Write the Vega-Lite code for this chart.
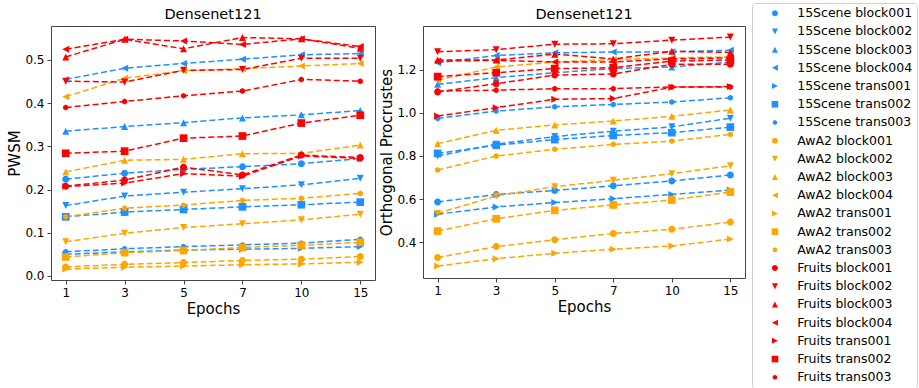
{
  "$schema": "https://vega.github.io/schema/vega-lite/v6.json",
  "padding": {"left": 7, "top": 2, "right": 0, "bottom": 0},
  "background": "white",
  "config": {
    "font": "DejaVu Sans",
    "view": {"stroke": "#444", "strokeWidth": 1},
    "axis": {"domain": false, "grid": false, "ticks": true, "tickSize": 4, "tickColor": "#444", "labelFont": "DejaVu Sans", "labelFontSize": 12, "labelColor": "#000", "titleFont": "DejaVu Sans", "titleFontSize": 15, "titleFontWeight": "normal", "titleColor": "#000", "labelPadding": 3},
    "axisY": {"titlePadding": 2},
    "axisX": {"titlePadding": 3},
    "title": {"font": "DejaVu Sans", "fontSize": 14.5, "fontWeight": "normal", "color": "#000", "offset": 4, "anchor": "middle", "baseline": "alphabetic"},
    "range": {
      "category": ["#1E90FF","#1E90FF","#1E90FF","#1E90FF","#1E90FF","#1E90FF","#1E90FF","#FFA500","#FFA500","#FFA500","#FFA500","#FFA500","#FFA500","#FFA500","#FF0000","#FF0000","#FF0000","#FF0000","#FF0000","#FF0000","#FF0000"],
      "symbol": [
        "M1,0A1,1,0,1,1,-1,0A1,1,0,1,1,1,0Z", "M0,1L-1,-1L1,-1Z", "M0,-1L-1,1L1,1Z", "M-1,0L1,-1L1,1Z", "M1,0L-1,-1L-1,1Z", "M-1.1,-1.1H1.1V1.1H-1.1Z", "M0,-0.85L0.736,-0.425L0.736,0.425L0,0.85L-0.736,0.425L-0.736,-0.425Z",
        "M1,0A1,1,0,1,1,-1,0A1,1,0,1,1,1,0Z", "M0,1L-1,-1L1,-1Z", "M0,-1L-1,1L1,1Z", "M-1,0L1,-1L1,1Z", "M1,0L-1,-1L-1,1Z", "M-1.1,-1.1H1.1V1.1H-1.1Z", "M0,-0.85L0.736,-0.425L0.736,0.425L0,0.85L-0.736,0.425L-0.736,-0.425Z",
        "M1,0A1,1,0,1,1,-1,0A1,1,0,1,1,1,0Z", "M0,1L-1,-1L1,-1Z", "M0,-1L-1,1L1,1Z", "M-1,0L1,-1L1,1Z", "M1,0L-1,-1L-1,1Z", "M-1.1,-1.1H1.1V1.1H-1.1Z", "M0,-0.85L0.736,-0.425L0.736,0.425L0,0.85L-0.736,0.425L-0.736,-0.425Z"
      ]
    },
    "legend": {"orient": "none", "legendX": 701, "legendY": -23, "padding": 4, "strokeColor": "#d0d0d0", "cornerRadius": 3, "fillColor": "white", "labelFont": "DejaVu Sans", "labelFontSize": 12.5, "labelColor": "#000", "rowPadding": 5.2, "symbolOffset": 12.7, "labelOffset": 16, "symbolSize": 36, "symbolStrokeWidth": 1.3, "title": null}
  },
  "data": {"values": [
    {"s":"15Scene block001","e":1,"p":0.224,"o":0.587},{"s":"15Scene block001","e":3,"p":0.238,"o":0.622},{"s":"15Scene block001","e":5,"p":0.247,"o":0.640},{"s":"15Scene block001","e":7,"p":0.253,"o":0.662},{"s":"15Scene block001","e":10,"p":0.260,"o":0.684},{"s":"15Scene block001","e":15,"p":0.272,"o":0.712},
    {"s":"15Scene block002","e":1,"p":0.163,"o":0.800},{"s":"15Scene block002","e":3,"p":0.185,"o":0.855},{"s":"15Scene block002","e":5,"p":0.194,"o":0.890},{"s":"15Scene block002","e":7,"p":0.202,"o":0.915},{"s":"15Scene block002","e":10,"p":0.211,"o":0.935},{"s":"15Scene block002","e":15,"p":0.226,"o":0.975},
    {"s":"15Scene block003","e":1,"p":0.335,"o":1.132},{"s":"15Scene block003","e":3,"p":0.346,"o":1.163},{"s":"15Scene block003","e":5,"p":0.355,"o":1.186},{"s":"15Scene block003","e":7,"p":0.366,"o":1.205},{"s":"15Scene block003","e":10,"p":0.373,"o":1.213},{"s":"15Scene block003","e":15,"p":0.383,"o":1.235},
    {"s":"15Scene block004","e":1,"p":0.455,"o":1.232},{"s":"15Scene block004","e":3,"p":0.481,"o":1.266},{"s":"15Scene block004","e":5,"p":0.492,"o":1.278},{"s":"15Scene block004","e":7,"p":0.502,"o":1.282},{"s":"15Scene block004","e":10,"p":0.512,"o":1.283},{"s":"15Scene block004","e":15,"p":0.515,"o":1.290},
    {"s":"15Scene trans001","e":1,"p":0.050,"o":0.530},{"s":"15Scene trans001","e":3,"p":0.056,"o":0.564},{"s":"15Scene trans001","e":5,"p":0.060,"o":0.584},{"s":"15Scene trans001","e":7,"p":0.062,"o":0.602},{"s":"15Scene trans001","e":10,"p":0.064,"o":0.622},{"s":"15Scene trans001","e":15,"p":0.068,"o":0.642},
    {"s":"15Scene trans002","e":1,"p":0.137,"o":0.812},{"s":"15Scene trans002","e":3,"p":0.148,"o":0.850},{"s":"15Scene trans002","e":5,"p":0.154,"o":0.876},{"s":"15Scene trans002","e":7,"p":0.160,"o":0.895},{"s":"15Scene trans002","e":10,"p":0.165,"o":0.908},{"s":"15Scene trans002","e":15,"p":0.171,"o":0.934},
    {"s":"15Scene trans003","e":1,"p":0.056,"o":0.974},{"s":"15Scene trans003","e":3,"p":0.063,"o":1.008},{"s":"15Scene trans003","e":5,"p":0.068,"o":1.028},{"s":"15Scene trans003","e":7,"p":0.072,"o":1.039},{"s":"15Scene trans003","e":10,"p":0.076,"o":1.050},{"s":"15Scene trans003","e":15,"p":0.085,"o":1.070},
    {"s":"AwA2 block001","e":1,"p":0.021,"o":0.329},{"s":"AwA2 block001","e":3,"p":0.027,"o":0.380},{"s":"AwA2 block001","e":5,"p":0.031,"o":0.412},{"s":"AwA2 block001","e":7,"p":0.036,"o":0.441},{"s":"AwA2 block001","e":10,"p":0.039,"o":0.460},{"s":"AwA2 block001","e":15,"p":0.045,"o":0.494},
    {"s":"AwA2 block002","e":1,"p":0.079,"o":0.534},{"s":"AwA2 block002","e":3,"p":0.099,"o":0.615},{"s":"AwA2 block002","e":5,"p":0.112,"o":0.658},{"s":"AwA2 block002","e":7,"p":0.121,"o":0.687},{"s":"AwA2 block002","e":10,"p":0.130,"o":0.718},{"s":"AwA2 block002","e":15,"p":0.143,"o":0.755},
    {"s":"AwA2 block003","e":1,"p":0.241,"o":0.857},{"s":"AwA2 block003","e":3,"p":0.268,"o":0.919},{"s":"AwA2 block003","e":5,"p":0.270,"o":0.944},{"s":"AwA2 block003","e":7,"p":0.283,"o":0.962},{"s":"AwA2 block003","e":10,"p":0.284,"o":0.984},{"s":"AwA2 block003","e":15,"p":0.303,"o":1.013},
    {"s":"AwA2 block004","e":1,"p":0.415,"o":1.152},{"s":"AwA2 block004","e":3,"p":0.458,"o":1.212},{"s":"AwA2 block004","e":5,"p":0.475,"o":1.236},{"s":"AwA2 block004","e":7,"p":0.480,"o":1.247},{"s":"AwA2 block004","e":10,"p":0.486,"o":1.255},{"s":"AwA2 block004","e":15,"p":0.492,"o":1.259},
    {"s":"AwA2 trans001","e":1,"p":0.016,"o":0.290},{"s":"AwA2 trans001","e":3,"p":0.020,"o":0.324},{"s":"AwA2 trans001","e":5,"p":0.023,"o":0.349},{"s":"AwA2 trans001","e":7,"p":0.026,"o":0.368},{"s":"AwA2 trans001","e":10,"p":0.028,"o":0.383},{"s":"AwA2 trans001","e":15,"p":0.032,"o":0.415},
    {"s":"AwA2 trans002","e":1,"p":0.044,"o":0.452},{"s":"AwA2 trans002","e":3,"p":0.054,"o":0.509},{"s":"AwA2 trans002","e":5,"p":0.059,"o":0.548},{"s":"AwA2 trans002","e":7,"p":0.066,"o":0.573},{"s":"AwA2 trans002","e":10,"p":0.071,"o":0.596},{"s":"AwA2 trans002","e":15,"p":0.078,"o":0.633},
    {"s":"AwA2 trans003","e":1,"p":0.137,"o":0.735},{"s":"AwA2 trans003","e":3,"p":0.157,"o":0.800},{"s":"AwA2 trans003","e":5,"p":0.164,"o":0.831},{"s":"AwA2 trans003","e":7,"p":0.175,"o":0.854},{"s":"AwA2 trans003","e":10,"p":0.180,"o":0.869},{"s":"AwA2 trans003","e":15,"p":0.191,"o":0.900},
    {"s":"Fruits block001","e":1,"p":0.208,"o":1.097},{"s":"Fruits block001","e":3,"p":0.222,"o":1.135},{"s":"Fruits block001","e":5,"p":0.252,"o":1.175},{"s":"Fruits block001","e":7,"p":0.234,"o":1.180},{"s":"Fruits block001","e":10,"p":0.280,"o":1.225},{"s":"Fruits block001","e":15,"p":0.274,"o":1.225},
    {"s":"Fruits block002","e":1,"p":0.451,"o":1.283},{"s":"Fruits block002","e":3,"p":0.449,"o":1.293},{"s":"Fruits block002","e":5,"p":0.476,"o":1.318},{"s":"Fruits block002","e":7,"p":0.478,"o":1.320},{"s":"Fruits block002","e":10,"p":0.504,"o":1.337},{"s":"Fruits block002","e":15,"p":0.504,"o":1.351},
    {"s":"Fruits block003","e":1,"p":0.507,"o":1.245},{"s":"Fruits block003","e":3,"p":0.548,"o":1.245},{"s":"Fruits block003","e":5,"p":0.526,"o":1.272},{"s":"Fruits block003","e":7,"p":0.552,"o":1.250},{"s":"Fruits block003","e":10,"p":0.549,"o":1.285},{"s":"Fruits block003","e":15,"p":0.527,"o":1.280},
    {"s":"Fruits block004","e":1,"p":0.525,"o":1.240},{"s":"Fruits block004","e":3,"p":0.548,"o":1.243},{"s":"Fruits block004","e":5,"p":0.544,"o":1.236},{"s":"Fruits block004","e":7,"p":0.536,"o":1.236},{"s":"Fruits block004","e":10,"p":0.549,"o":1.250},{"s":"Fruits block004","e":15,"p":0.531,"o":1.255},
    {"s":"Fruits trans001","e":1,"p":0.207,"o":0.985},{"s":"Fruits trans001","e":3,"p":0.215,"o":1.024},{"s":"Fruits trans001","e":5,"p":0.237,"o":1.063},{"s":"Fruits trans001","e":7,"p":0.231,"o":1.066},{"s":"Fruits trans001","e":10,"p":0.278,"o":1.119},{"s":"Fruits trans001","e":15,"p":0.272,"o":1.122},
    {"s":"Fruits trans002","e":1,"p":0.284,"o":1.168},{"s":"Fruits trans002","e":3,"p":0.289,"o":1.186},{"s":"Fruits trans002","e":5,"p":0.319,"o":1.205},{"s":"Fruits trans002","e":7,"p":0.324,"o":1.209},{"s":"Fruits trans002","e":10,"p":0.354,"o":1.240},{"s":"Fruits trans002","e":15,"p":0.372,"o":1.245},
    {"s":"Fruits trans003","e":1,"p":0.390,"o":1.101},{"s":"Fruits trans003","e":3,"p":0.404,"o":1.105},{"s":"Fruits trans003","e":5,"p":0.417,"o":1.112},{"s":"Fruits trans003","e":7,"p":0.428,"o":1.112},{"s":"Fruits trans003","e":10,"p":0.455,"o":1.120},{"s":"Fruits trans003","e":15,"p":0.451,"o":1.120}
  ]},
  "spacing": 3,
  "hconcat": [
    {
      "title": {"text": "Densenet121"},
      "width": 324, "height": 254,
      "encoding": {
        "x": {"field": "e", "type": "ordinal", "scale": {"type": "point", "padding": 0.25}, "axis": {"title": "Epochs", "labelAngle": 0}},
        "y": {"field": "p", "type": "quantitative", "scale": {"domain": [-0.0093, 0.5787], "nice": false, "zero": false}, "axis": {"title": "PWSM", "values": [0, 0.1, 0.2, 0.3, 0.4, 0.5], "format": ".1f"}}
      },
      "layer": [
        {"mark": {"type": "line", "strokeDash": [6, 3], "strokeWidth": 1.5},
         "encoding": {"stroke": {"field": "s", "type": "nominal", "legend": null}}},
        {"mark": {"type": "point", "filled": true, "size": 49, "opacity": 1},
         "encoding": {
           "shape": {"field": "s", "type": "nominal", "legend": null},
           "color": {"field": "s", "type": "nominal", "legend": {"title": null, "symbolOffset": 12.7, "labelOffset": 16, "encode": {"symbols": {
             "strokeWidth": {"value": 1.3}
           }}}}
         }}
      ]
    },
    {
      "title": {"text": "Densenet121"},
      "width": 322, "height": 252,
      "encoding": {
        "x": {"field": "e", "type": "ordinal", "scale": {"type": "point", "padding": 0.25}, "axis": {"title": "Epochs", "labelAngle": 0}},
        "y": {"field": "o", "type": "quantitative", "scale": {"domain": [0.2345, 1.4025], "nice": false, "zero": false}, "axis": {"title": "Orthogonal Procrustes", "values": [0.4, 0.6, 0.8, 1.0, 1.2], "format": ".1f"}}
      },
      "layer": [
        {"mark": {"type": "line", "strokeDash": [6, 3], "strokeWidth": 1.5},
         "encoding": {"stroke": {"field": "s", "type": "nominal", "legend": null}}},
        {"mark": {"type": "point", "filled": true, "size": 49, "opacity": 1},
         "encoding": {
           "shape": {"field": "s", "type": "nominal", "legend": null},
           "color": {"field": "s", "type": "nominal", "legend": {"title": null, "symbolOffset": 12.7, "labelOffset": 16, "encode": {"symbols": {
             "strokeWidth": {"value": 1.3}
           }}}}
         }}
      ]
    }
  ]
}
